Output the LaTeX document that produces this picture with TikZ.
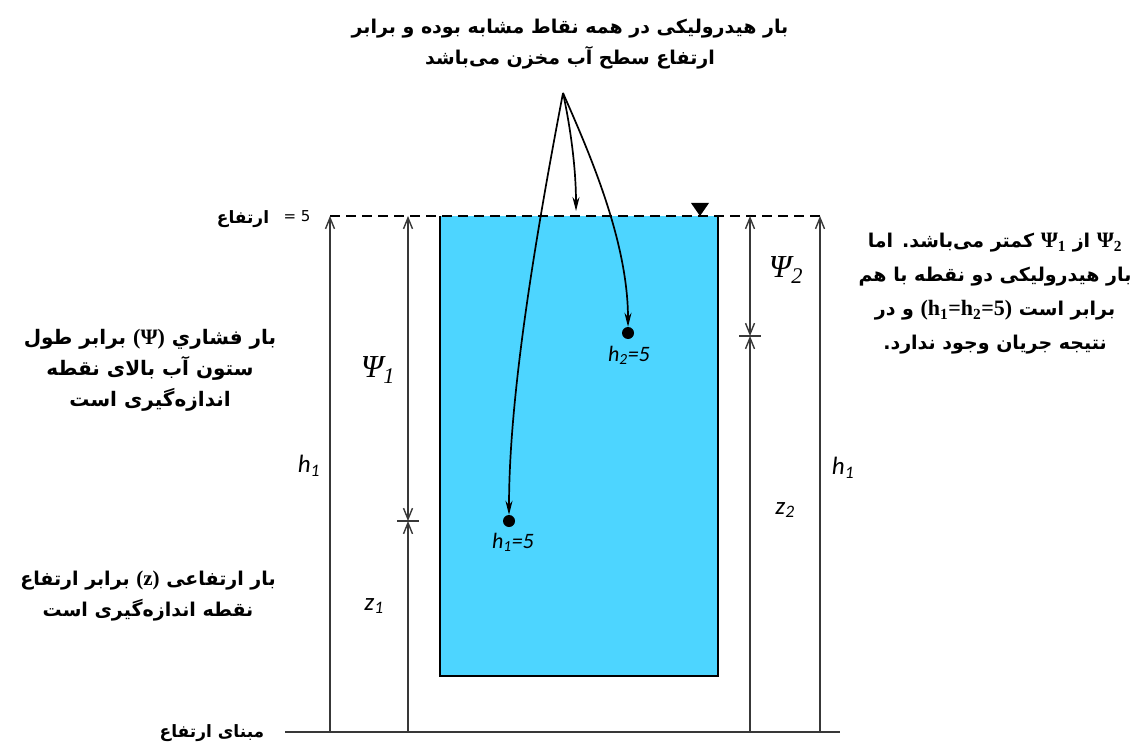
\documentclass[tikz,border=0pt]{standalone}
\usepackage{fontspec}
\usetikzlibrary{arrows.meta}
\TeXXeTstate=1
\newfontfamily\arabicfont[Script=Arabic]{DejaVu Sans}
\newfontfamily\labelfont{Carlito}
\newfontfamily\serifgr{Liberation Serif}
\newfontfamily\plainsans{DejaVu Sans}
\definecolor{water}{RGB}{77,213,255}
\tikzset{
  barb/.tip={Straight Barb[length=11pt,width=9pt,line width=1.4pt]},
  dim/.style={line width=2pt, draw=black!78},
  curvearrow/.style={line width=1.7pt, -{Stealth[length=14pt,width=7pt]}},
  fa/.style={font=\arabicfont\bfseries\fontsize{19}{31}\selectfont, align=center, inner sep=0pt},
  lab/.style={font=\labelfont\itshape\fontsize{25}{25}\selectfont, inner sep=0pt},
  greek/.style={font=\serifgr\itshape\fontsize{32}{32}\selectfont, inner sep=0pt},
  ptlab/.style={font=\labelfont\itshape\fontsize{22}{22}\selectfont, inner sep=0pt},
  dot/.style={circle, fill=black, inner sep=0pt, minimum size=12pt},
  tank/.style={line width=2.4pt},
}
\begin{document}
\begin{tikzpicture}[x=1pt,y=-1pt]
\useasboundingbox (0,0) rectangle (1139,743);
% tank
\fill[water] (440,216) rectangle (718,676);
\draw[tank] (440,216) -- (440,676) -- (718,676) -- (718,216);
% water surface
\draw[line width=1.7pt, dash pattern=on 10pt off 6pt] (330,216) -- (826,216);
\fill (691,203) -- (709,203) -- (700,216) -- cycle;
% coordinates
\coordinate (L1t) at (330,216); \coordinate (L1b) at (330,732);
\coordinate (L2t) at (408,216); \coordinate (L2m) at (408,521); \coordinate (L2b) at (408,732);
\coordinate (R1t) at (750,216); \coordinate (R1m) at (750,336); \coordinate (R1b) at (750,732);
\coordinate (R2t) at (820,216); \coordinate (R2b) at (820,732);
\coordinate (G1) at (285,732); \coordinate (G2) at (840,732);
% ground
\draw[dim] (G1) -- (G2);
% dimension lines
\draw[dim,-{barb}] (L1b) -- (L1t);
\draw[dim,{barb}-{barb}] (L2t) -- (L2m);
\draw[dim,{barb}-] (L2m) -- (L2b);
\draw[dim] ([xshift=-11pt]L2m) -- ([xshift=11pt]L2m);
\draw[dim,{barb}-{barb}] (R1t) -- (R1m);
\draw[dim,{barb}-] (R1m) -- (R1b);
\draw[dim] ([xshift=-11pt]R1m) -- ([xshift=11pt]R1m);
\draw[dim,-{barb}] (R2b) -- (R2t);
% labels on dimension lines
\node[lab] (h1L) at (309,466) {h\textsubscript{1}};
\node[lab] (h1R) at (843,468) {h\textsubscript{1}};
\node[greek] (psi1) at (378,370) {Ψ\textsubscript{1}};
\node[greek] (psi2) at (786,270) {Ψ\textsubscript{2}};
\node[lab] (z1) at (374,606) {z\textsubscript{1}};
\node[lab] (z2) at (785,510) {z\textsubscript{2}};
% points
\node[dot] (p1) at (509,521) {};
\node[dot] (p2) at (628,333) {};
\node[ptlab] (p1l) at (513,542) {h\textsubscript{1}=5};
\node[ptlab] (p2l) at (629,355) {h\textsubscript{2}=5};
% curved arrows
\coordinate (src) at (563,93);
\coordinate (surf) at (576,211);
\draw[curvearrow] (src) .. controls (533,250) and (509,400) .. (p1);
\draw[curvearrow] (src) .. controls (571,130) and (576,170) .. (surf);
\draw[curvearrow] (src) .. controls (588,150) and (628,240) .. (p2);
% texts
\node[fa] (top) at (570,44) {\beginR بار هیدرولیکی در همه نقاط مشابه بوده و برابر\endR\\ \beginR ارتفاع سطح آب مخزن می^^^^200cباشد\endR};
\node[fa, font=\arabicfont\bfseries\fontsize{17}{17}\selectfont] (elev) at (243,219) {\beginR ارتفاع\endR};
\node[font=\plainsans\fontsize{15}{15}\selectfont, inner sep=0pt] (five) at (297,216) {= 5};
\node[fa, font=\arabicfont\bfseries\fontsize{17}{17}\selectfont] (base) at (212,733) {\beginR مبنای ارتفاع\endR};
\node[fa, font=\arabicfont\bfseries\fontsize{20}{31}\selectfont] (psitext) at (150,370) {\beginR بار فشاري \beginL{\serifgr\fontsize{22}{22}\selectfont (Ψ)}\endL{} برابر طول\endR\\ \beginR ستون آب بالای نقطه\endR\\ \beginR اندازه^^^^200cگیری است\endR};
\node[fa] (ztext) at (148,596) {\beginR بار ارتفاعی \beginL{\serifgr\fontsize{21}{21}\selectfont (z)}\endL{} برابر ارتفاع\endR\\ \beginR نقطه اندازه^^^^200cگیری است\endR};
\node[fa, font=\arabicfont\bfseries\fontsize{19}{34}\selectfont] (rtext) at (995,294) {\beginR\beginL{\serifgr\fontsize{22}{22}\selectfont Ψ\textsubscript{2}}\endL{} از \beginL{\serifgr\fontsize{22}{22}\selectfont Ψ\textsubscript{1}}\endL{} کمتر می^^^^200cباشد. اما\endR\\ \beginR بار هیدرولیکی دو نقطه با هم\endR\\ \beginR برابر است \beginL{\serifgr\fontsize{22}{22}\selectfont (h\textsubscript{1}=h\textsubscript{2}=5)}\endL{} و در\endR\\ \beginR نتیجه جریان وجود ندارد.\endR};
\end{tikzpicture}
\end{document}
